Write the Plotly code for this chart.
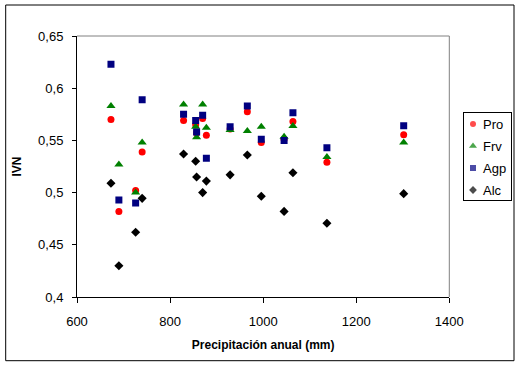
import plotly.graph_objects as go

precip = [673, 690, 726, 740, 829, 855, 857, 870, 878, 929, 966, 996, 1045, 1064, 1137, 1302]
pro = [0.570, 0.482, 0.502, 0.539, 0.569, 0.565, 0.557, 0.571, 0.555, 0.561, 0.5775, 0.548, 0.551, 0.568, 0.529, 0.5555]
frv = [0.583, 0.527, 0.500, 0.548, 0.5845, 0.563, 0.553, 0.5845, 0.562, 0.560, 0.559, 0.563, 0.5535, 0.5638, 0.534, 0.548]
agp = [0.623, 0.493, 0.490, 0.589, 0.575, 0.569, 0.558, 0.574, 0.533, 0.563, 0.583, 0.551, 0.550, 0.5765, 0.543, 0.564]
alc = [0.509, 0.430, 0.462, 0.4945, 0.537, 0.530, 0.515, 0.500, 0.511, 0.517, 0.536, 0.4965, 0.482, 0.519, 0.4706, 0.499]

series_names = ["Pro", "Frv", "Agp", "Alc"]
series_vals = [pro, frv, agp, alc]
symbols = ["circle", "triangle-up", "square", "diamond"]
colors = ["#ff0000", "#008000", "#000080", "#000000"]
sizes = [7, 8, 7, 7]

font_fam = "Liberation Sans, Arial, sans-serif"

fig = go.Figure()
for name, vals, sym, col, sz in zip(series_names, series_vals, symbols, colors, sizes):
    fig.add_trace(go.Scatter(
        x=precip, y=vals, mode="markers", name=name, showlegend=False,
        marker=dict(symbol=sym, color=col, size=sz, line=dict(width=0)),
        xaxis="x", yaxis="y",
    ))

# custom legend drawn in its own small axes (Excel-style compact legend)
n = len(series_names)
leg_y = [n - 1 - i for i in range(n)]
fig.add_trace(go.Scatter(
    x=[8.7] * n, y=leg_y, mode="markers", showlegend=False, hoverinfo="skip",
    marker=dict(symbol=symbols, color=colors, size=[s - 1 for s in sizes], line=dict(width=0)),
    xaxis="x2", yaxis="y2",
))
for name, yy in zip(series_names, leg_y):
    fig.add_annotation(x=17.0, y=yy, xref="x2", yref="y2", text=name,
                       showarrow=False, xanchor="left", yanchor="middle",
                       font=dict(size=13, family=font_fam, color="black"))

main_w = 372.3 / 437

fig.update_layout(
    width=521, height=367,
    margin=dict(l=77, r=7, t=36, b=70, autoexpand=False),
    paper_bgcolor="white", plot_bgcolor="white",
    separators=",.",
    font=dict(family=font_fam, size=13, color="black"),
    showlegend=False,
    xaxis=dict(
        domain=[0, main_w],
        range=[600, 1400], tickvals=[600, 800, 1000, 1200, 1400],
        showgrid=False, zeroline=False, automargin=False,
        showline=True, linecolor="black", linewidth=1,
        ticks="outside", ticklen=5, tickcolor="black",
        ticklabelstandoff=7,
        title=dict(text="<b>Precipitación anual (mm)</b>", font=dict(size=12), standoff=13),
    ),
    yaxis=dict(
        domain=[0, 1],
        range=[0.4, 0.65], tickvals=[0.4, 0.45, 0.5, 0.55, 0.6, 0.65],
        tickformat=".2~f",
        showgrid=False, zeroline=False, automargin=False,
        showline=True, linecolor="black", linewidth=1,
        ticks="outside", ticklen=4, tickcolor="black",
        ticklabelstandoff=6,
        title=dict(text="<b>IVN</b>", font=dict(size=12), standoff=13),
    ),
    xaxis2=dict(
        domain=[(464.3 - 77) / 437, (510.7 - 77) / 437],
        range=[0, 46.4], anchor="y2",
        showgrid=False, zeroline=False, showticklabels=False, ticks="",
        showline=True, mirror=True, linecolor="black", linewidth=1,
        fixedrange=True,
    ),
    yaxis2=dict(
        domain=[(297 - 200) / 261, (297 - 112.7) / 261],
        range=[-0.4545, 3.514], anchor="x2",
        showgrid=False, zeroline=False, showticklabels=False, ticks="",
        showline=True, mirror=True, linecolor="black", linewidth=1,
        fixedrange=True,
    ),
)

# gray top/right plot border
fig.add_shape(type="line", xref="x domain", yref="y domain", x0=0, x1=1, y0=1, y1=1,
              line=dict(color="#808080", width=1))
fig.add_shape(type="line", xref="x domain", yref="y domain", x0=1, x1=1, y0=0, y1=1,
              line=dict(color="#808080", width=1))
# outer chart border
fig.add_shape(type="rect", xref="paper", yref="paper",
              x0=(5.7 - 77) / 437, x1=1.0, y0=(297 - 360.7) / 261, y1=(297 - 5) / 261,
              line=dict(color="black", width=1), fillcolor="rgba(0,0,0,0)")

fig.write_html("out.html", config={"displayModeBar": False},
               post_script="document.body.style.margin='0';document.body.style.padding='0';")
